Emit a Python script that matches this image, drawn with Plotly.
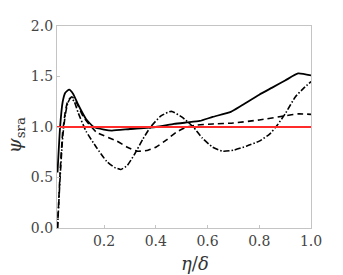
import plotly.graph_objects as go

# ---- data ----
x_solid = [0.02, 0.03, 0.04, 0.05, 0.065, 0.08, 0.10, 0.13, 0.16, 0.20, 0.23, 0.30,
           0.40, 0.47, 0.52, 0.57, 0.62, 0.69, 0.73, 0.80, 0.85, 0.90, 0.95, 1.0]
y_solid = [0.55, 1.00, 1.25, 1.34, 1.37, 1.33, 1.22, 1.08, 1.00, 0.975, 0.965, 0.98,
           1.00, 1.03, 1.045, 1.06, 1.10, 1.15, 1.21, 1.32, 1.39, 1.46, 1.53, 1.51]

x_dash = [0.02, 0.03, 0.04, 0.05, 0.06, 0.075, 0.09, 0.12, 0.17, 0.25, 0.29, 0.33,
          0.37, 0.40, 0.44, 0.48, 0.52, 0.56, 0.62, 0.70, 0.80, 0.90, 0.95, 1.0]
y_dash = [0.0, 0.55, 0.95, 1.15, 1.26, 1.30, 1.26, 1.10, 0.95, 0.86, 0.80, 0.76,
          0.77, 0.80, 0.87, 0.95, 1.00, 1.02, 1.03, 1.04, 1.07, 1.11, 1.13, 1.125]

x_dashdot = [0.02, 0.03, 0.04, 0.05, 0.06, 0.072, 0.085, 0.10, 0.13, 0.17, 0.21, 0.24,
             0.265, 0.29, 0.32, 0.35, 0.38, 0.42, 0.46, 0.50, 0.545, 0.58, 0.62, 0.66,
             0.70, 0.75, 0.80, 0.84, 0.87, 0.90, 0.94, 0.97, 1.0]
y_dashdot = [0.0, 0.5, 0.9, 1.12, 1.24, 1.29, 1.25, 1.14, 0.96, 0.80, 0.66, 0.60,
             0.58, 0.62, 0.74, 0.88, 1.00, 1.11, 1.155, 1.10, 1.00, 0.89, 0.80, 0.76,
             0.77, 0.81, 0.86, 0.93, 1.02, 1.13, 1.30, 1.38, 1.45]

ref_level = 1.0
x_range = [0.018, 1.0]
y_range = [0.0, 2.0]
x_ticks = [0.2, 0.4, 0.6, 0.8, 1.0]
y_ticks = [0.0, 0.5, 1.0, 1.5, 2.0]
x_title = "<i>η</i>/<i>δ</i>"
y_title = "<i>ψ</i><sub>sra</sub>"

FONT = "DejaVu Serif"

fig = go.Figure()
fig.add_trace(go.Scatter(x=x_solid, y=y_solid, mode="lines",
                         line=dict(color="black", width=1.8, shape="spline", smoothing=0.5)))
fig.add_trace(go.Scatter(x=x_dash, y=y_dash, mode="lines",
                         line=dict(color="black", width=1.6, dash="6px,4px", shape="spline", smoothing=0.5)))
fig.add_trace(go.Scatter(x=x_dashdot, y=y_dashdot, mode="lines",
                         line=dict(color="black", width=1.6, dash="6px,2px,1.5px,2px", shape="spline", smoothing=0.5)))
fig.add_trace(go.Scatter(x=x_range, y=[ref_level, ref_level], mode="lines",
                         line=dict(color="#ff2a2a", width=2)))

axis_common = dict(
    showline=True, linecolor="#c4c4c4", linewidth=1.2, mirror=True,
    showgrid=False, zeroline=False, automargin=False,
    ticks="inside", ticklen=3, tickcolor="#c4c4c4", tickwidth=1,
    tickfont=dict(family=FONT, size=14, color="#444444"),
)

fig.update_layout(
    width=343, height=275,
    margin=dict(l=57, r=32, t=26, b=47),
    paper_bgcolor="white", plot_bgcolor="white",
    showlegend=False,
    font=dict(family=FONT, color="#444444"),
    xaxis=dict(range=x_range, tickvals=x_ticks, ticktext=[f"{v:.1f}" for v in x_ticks],
               **axis_common),
    yaxis=dict(range=y_range, tickvals=y_ticks, ticktext=[f"{v:.1f}" for v in y_ticks],
               **axis_common),
    annotations=[
        dict(text=x_title, xref="paper", yref="paper", x=0.543, y=-0.178,
             xanchor="center", yanchor="middle", showarrow=False,
             font=dict(family=FONT, size=18, color="#333333")),
        dict(text=y_title, xref="paper", yref="paper", x=-0.165, y=0.46,
             xanchor="center", yanchor="middle", showarrow=False, textangle=-90,
             font=dict(family=FONT, size=19, color="#333333")),
    ],
)

fig.write_html("out.html", config={"displayModeBar": False},
               post_script="document.body.style.margin='0';")
